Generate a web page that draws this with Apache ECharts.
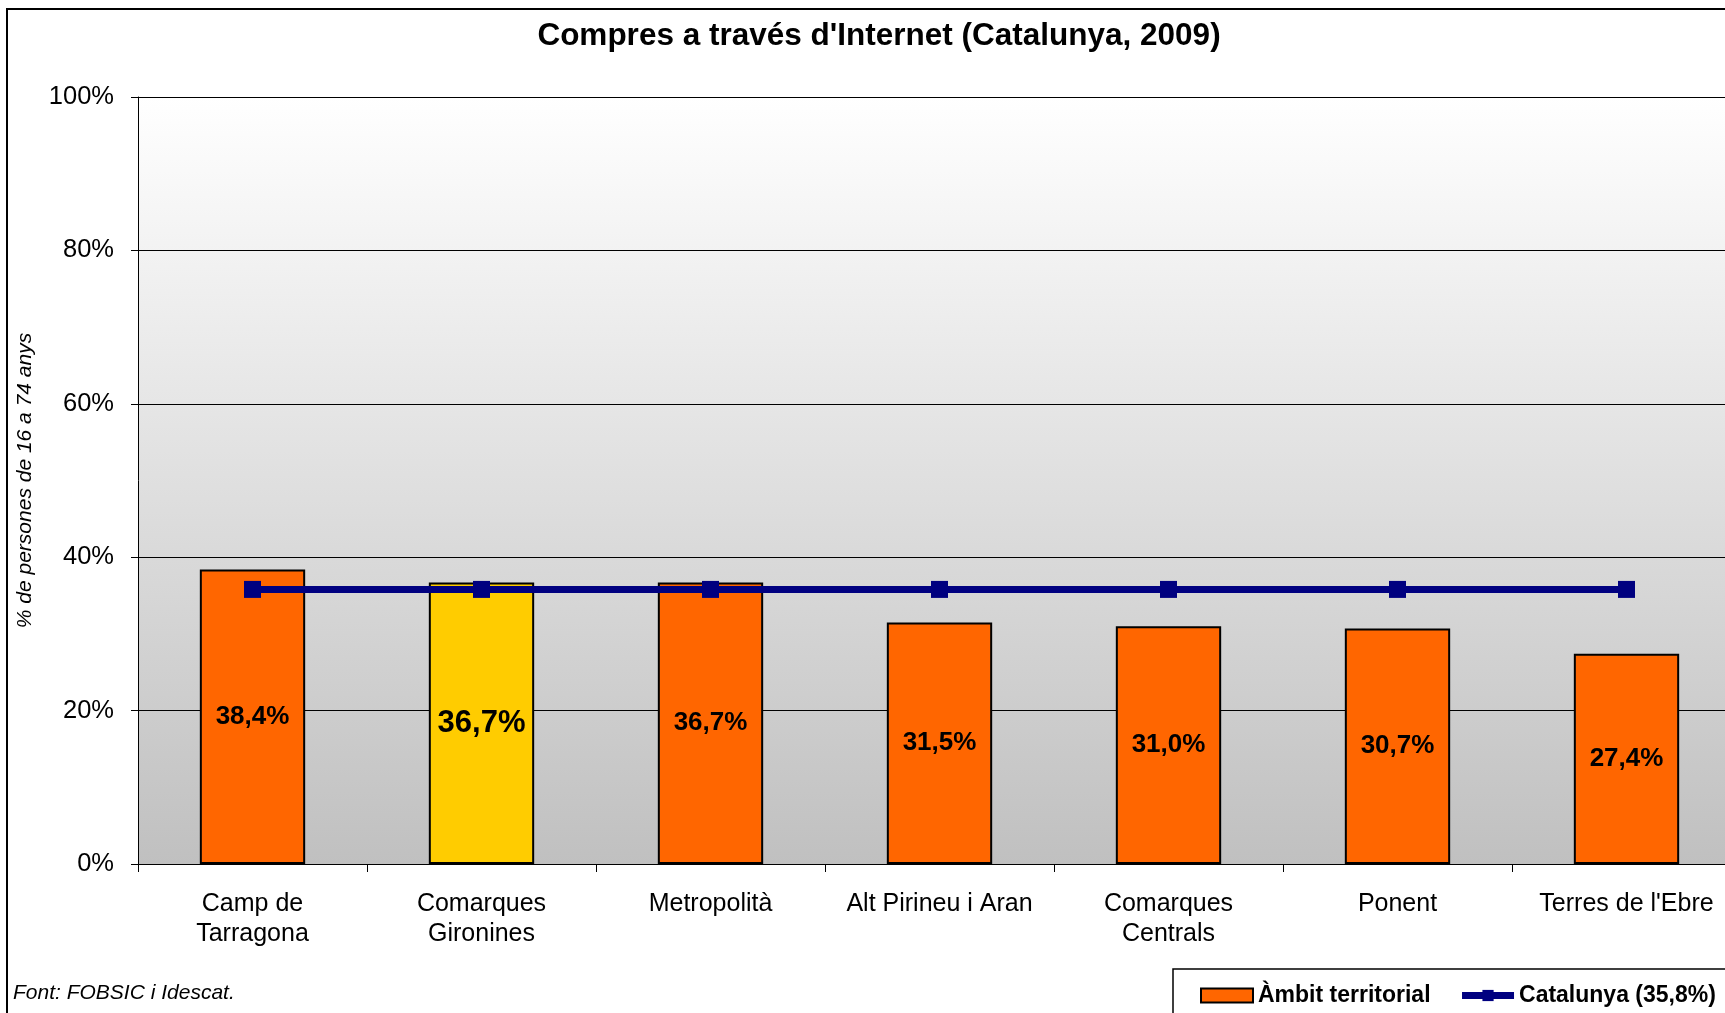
<!DOCTYPE html>
<html>
<head>
<meta charset="utf-8">
<title>Compres a través d'Internet (Catalunya, 2009)</title>
<script src="https://cdn.jsdelivr.net/npm/echarts@6/dist/echarts.min.js"></script>
<style>
  html, body { margin: 0; padding: 0; background: #fff; }
  #chart { width: 1725px; height: 1013px; }
</style>
</head>
<body>
<div id="chart"></div>
<script>
// dades
const categories = ['Camp de\nTarragona', 'Comarques\nGironines', 'Metropolità', 'Alt Pirineu i Aran', 'Comarques\nCentrals', 'Ponent', "Terres de l'Ebre"];
const ambitValues = [38.4, 36.7, 36.7, 31.5, 31.0, 30.7, 27.4];
const catalunyaValues = [35.8, 35.8, 35.8, 35.8, 35.8, 35.8, 35.8];
const highlightIndex = 1; // Comarques Gironines
const yTicks = [0, 20, 40, 60, 80, 100];

const FONT = '"Liberation Sans", Arial, sans-serif';

const chart = echarts.init(document.getElementById('chart'));

const fmt = v => v.toFixed(1).replace('.', ',') + '%';

const barData = ambitValues.map((v, i) => {
  if (i === highlightIndex) {
    return {
      value: v,
      itemStyle: { color: '#FFCC00' },
      label: { fontSize: 31 }
    };
  }
  return v;
});

const option = {
  animation: false,
  backgroundColor: '#fff',
  title: {
    text: "Compres a través d'Internet (Catalunya, 2009)",
    left: 874,
    top: 15,
    textAlign: 'center',
    textStyle: { fontFamily: FONT, fontSize: 31.5, fontWeight: 'bold', color: '#000' }
  },
  legend: {
    left: 1200,
    top: 984,
    width: 800,
    z: 20,
    padding: 0,
    itemGap: 28,
    itemWidth: 52,
    itemHeight: 14,
    textStyle: { fontFamily: FONT, fontSize: 23, fontWeight: 'bold', color: '#000' },
    data: [
      { name: 'Àmbit territorial', icon: 'rect', itemStyle: { borderColor: '#000', borderWidth: 2 } },
      { name: 'Catalunya (35,8%)', lineStyle: { width: 7, color: '#000080' } }
    ]
  },
  grid: {
    left: 138,
    top: 97,
    width: 1603,
    height: 767,
    show: true,
    borderWidth: 0,
    backgroundColor: new echarts.graphic.LinearGradient(0, 0, 0, 1, [
      { offset: 0, color: '#ffffff' },
      { offset: 1, color: '#c0c0c0' }
    ]),
    containLabel: false,
    outerBoundsMode: 'none'
  },
  xAxis: {
    type: 'category',
    data: categories,
    axisLine: { lineStyle: { color: '#000', width: 1 } },
    axisTick: { show: true, length: 8, lineStyle: { color: '#000' } },
    axisLabel: {
      interval: 0,
      margin: 25,
      fontFamily: FONT,
      fontSize: 25,
      lineHeight: 30,
      color: '#000'
    }
  },
  yAxis: {
    type: 'value',
    min: yTicks[0],
    max: yTicks[yTicks.length - 1],
    interval: 20,
    name: '% de persones de 16 a 74 anys',
    nameLocation: 'middle',
    nameRotate: 90,
    nameGap: 102,
    nameTextStyle: { fontFamily: FONT, fontSize: 21, fontStyle: 'italic', color: '#000' },
    axisLine: { show: true, lineStyle: { color: '#000', width: 1 } },
    axisTick: { show: true, length: 7, lineStyle: { color: '#000' } },
    axisLabel: {
      margin: 24,
      fontFamily: FONT,
      fontSize: 25.5,
      color: '#000',
      formatter: '{value}%'
    },
    splitLine: { show: true, lineStyle: { color: '#000', width: 1 } }
  },
  graphic: [
    {
      type: 'rect',
      z: -10,
      silent: true,
      shape: { x: 7, y: 9, width: 1800, height: 1100 },
      style: { fill: 'none', stroke: '#000', lineWidth: 2 }
    },
    {
      type: 'rect',
      z: -5,
      silent: true,
      shape: { x: 1173, y: 969, width: 700, height: 100 },
      style: { fill: '#fff', stroke: '#000', lineWidth: 1.5 }
    },
    {
      type: 'text',
      left: 13,
      top: 983,
      silent: true,
      style: {
        text: 'Font: FOBSIC i Idescat.',
        fontFamily: FONT,
        fontSize: 21,
        fontStyle: 'italic',
        fill: '#000'
      }
    }
  ],
  series: [
    {
      name: 'Àmbit territorial',
      type: 'bar',
      data: barData,
      barWidth: '46%',
      itemStyle: { color: '#FF6600', borderColor: '#000', borderWidth: 2 },
      label: {
        show: true,
        position: 'inside',
        fontFamily: FONT,
        fontSize: 26,
        fontWeight: 'bold',
        color: '#000',
        formatter: p => fmt(p.value)
      },
      z: 2
    },
    {
      name: 'Catalunya (35,8%)',
      type: 'line',
      data: catalunyaValues,
      symbol: 'rect',
      symbolSize: 17,
      lineStyle: { color: '#000080', width: 7 },
      itemStyle: { color: '#000080' },
      z: 3
    }
  ]
};

chart.setOption(option);
</script>
</body>
</html>
